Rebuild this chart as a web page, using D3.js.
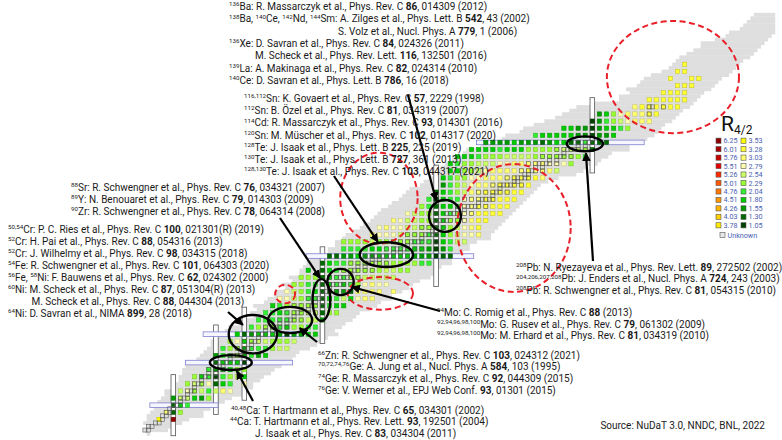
<!DOCTYPE html>
<html><head><meta charset="utf-8">
<script src="https://cdn.jsdelivr.net/npm/d3@7"></script>
<style>
html,body{margin:0;padding:0;background:#fff;}
svg{display:block;font-family:Roboto,"Noto Sans",sans-serif;}
</style></head><body>
<svg id="chart" width="782" height="440"></svg>
<script>
// ---------- nuclide chart: known nuclides per proton number Z = 0..118 ----------
const knownNmin = [1,0,1,0,1,1,2,3,3,4,5,6,6,8,8,10,10,11,11,12,14,15,16,17,18,19,19,20,20,23,
  24,29,28,31,30,32,31,34,35,37,37,40,39,42,41,44,44,45,46,47,49,52,52,54,54,56,57,59,61,62,
  64,65,66,67,69,70,72,73,74,75,78,79,81,82,83,84,85,87,87,90,91,95,96,101,102,106,107,110,113,116,
  118,120,122,126,134,134,137,136,139,140,141,143,146,148,149,150,151,153,155,157,157,161,164,165,168,169,170,171,172];
const knownNmax = [1,6,8,10,12,16,16,18,20,22,24,28,28,30,30,32,33,35,36,38,40,41,42,43,46,48,50,51,54,53,
  55,56,58,59,60,63,65,66,69,69,72,74,75,77,80,81,82,83,86,86,90,89,91,91,93,97,97,98,99,100,
  101,102,103,104,105,106,107,108,109,110,111,113,116,121,123,124,127,128,130,131,136,136,138,141,143,144,145,146,148,149,
  150,151,153,154,155,156,157,159,160,161,162,164,165,166,167,168,170,171,172,173,174,175,176,177,177,177,177,177,177];

// naturally occurring nuclides (outlined cells): proton number and neutron numbers
const stableZ = [1,2,3,4,5,6,7,8,9,10,11,12,13,14,15,16,17,18,19,20,21,22,23,24,25,26,27,28,29,30,
  31,32,33,34,35,36,37,38,39,40,41,42,44,45,46,47,48,49,50,51,52,53,54,55,56,57,58,59,60,62,
  63,64,65,66,67,68,69,70,71,72,73,74,75,76,77,78,79,80,81,82,83,90,92];
const stableN = [[0,1],[1,2],[3,4],[5],[5,6],[6,7],[7,8],[8,9,10],[10],[10,11,12],[12],[12,13,14],[14],[14,15,16],[16],
  [16,17,18,20],[18,20],[18,20,22],[20,21,22],[20,22,23,24,26,28],[24],[24,25,26,27,28],[27,28],[26,28,29,30],[30],
  [28,30,31,32],[32],[30,32,33,34,36],[34,36],[34,36,37,38,40],[38,40],[38,40,41,42,44],[42],[40,42,43,44,46,48],[44,46],
  [42,44,46,47,48,50],[48,50],[46,48,49,50],[50],[50,51,52,54,56],[52],[50,52,53,54,55,56,58],[52,54,55,56,57,58,60],[58],
  [56,58,59,60,62,64],[60,62],[58,60,62,63,64,65,66,68],[64,66],[62,64,65,66,67,68,69,70,72,74],[70,72],[68,70,71,72,73,74,76,78],
  [74],[70,72,74,75,76,77,78,80,82],[78],[74,76,78,79,80,81,82],[81,82],[78,80,82,84],[82],[82,83,84,85,86,88,90],
  [82,85,86,87,88,90,92],[88,90],[88,90,91,92,93,94,96],[94],[90,92,94,95,96,97,98],[98],[94,96,98,99,100,102],[100],
  [98,100,101,102,103,104,106],[104,105],[102,104,105,106,107,108],[107,108],[106,108,109,110,112],[110,112],
  [108,110,111,112,113,114,116],[114,116],[112,114,116,117,118,120],[118],[116,118,119,120,121,122,124],[122,124],
  [122,124,125,126],[126],[142],[142,143,146]];

// ---------- R4/2 = E(4+)/E(2+) of even-even nuclei ----------
// each row: proton number, first neutron number, values for consecutive even N
const r42Z  = [4,6,8,10,12,14,16,18,20,22,24,26,28,30,32,34,36,38,40,42,44,46,48,50,52,54,56,58,60,62,64,66,68,70,72,74,76,78,80,82,84,86,88,90,92,94,96,98,100,102,104];
const r42N0 = [4,6,8,8,10,12,14,18,20,20,22,24,26,30,32,34,36,38,40,42,44,46,50,52,56,56,64,66,70,74,78,80,82,84,84,86,86,88,92,96,110,118,126,128,138,142,146,150,148,150,152];
const r42Vals = [
  [3.60,null,6.30],
  [3.17,1.53,2.34],
  [1.50,1.80,2.14],
  [1.79,2.60,2.64,2.00,1.74,2.30],
  [2.65,3.01,2.38,2.73,2.28,2.62,3.20,3.00],
  [2.47,2.60,2.36,2.80,1.30,1.93,2.10,null,2.90],
  [2.30,2.00,2.20,1.27,2.20,2.50,2.76,2.00],
  [2.24,1.76,1.98,1.99,2.37,2.50],
  [1.35,1.81,1.97,1.91,1.17],
  [1.73,2.27,2.26,2.33,1.72,2.20,1.68,1.91],
  [2.23,2.48,2.41,1.65,2.20,2.26,2.26,2.50,2.60,2.60],
  [2.40,2.80,1.80,2.46,2.57,2.56,2.30,2.40,2.50,2.70],
  [1.88,1.45,1.69,1.88,2.00,1.94,1.69,1.20,1.77,1.77,1.90,1.93],
  [2.20,2.31,2.33,2.36,2.24,2.02,2.31,2.30,2.20,2.20],
  [2.28,2.27,2.23,2.07,2.07,2.46,2.51,2.54,2.64,1.60],
  [2.27,2.18,1.91,2.15,2.38,2.45,2.54,2.65,1.46,2.40,2.30],
  [1.86,2.20,2.44,2.46,2.33,2.35,2.38,1.44,2.10,1.92,2.00],
  [2.80,2.83,2.70,2.44,2.23,2.06,1.48,2.00,2.05,2.56,1.99,3.01,3.23,3.20],
  [2.80,2.60,2.42,2.23,2.02,1.40,1.60,1.60,1.63,1.50,3.26,3.15,3.24,3.20,null,3.10],
  [2.50,2.50,2.28,2.10,1.51,1.81,2.09,1.92,2.12,2.51,2.92,3.04,2.92,2.90],
  [2.40,2.30,2.30,1.53,1.82,2.14,2.27,2.33,2.48,2.66,2.75,2.76,2.72,2.60],
  [2.00,null,1.48,1.94,2.18,2.29,2.38,2.40,2.42,2.46,2.53,2.56,2.58,2.50,2.50],
  [1.49,1.80,2.10,2.25,2.36,2.38,2.35,2.29,2.30,2.38,2.39,2.37,2.37,2.35,2.26,2.20],
  [1.34,1.54,1.67,1.74,1.82,1.79,1.69,1.85,1.85,1.87,1.88,1.85,1.79,1.71,1.64,1.09,1.47,1.50],
  [2.20,2.26,2.20,2.09,2.00,1.98,2.07,2.09,2.07,2.04,2.01,1.95,1.72,1.24,1.69,2.10],
  [2.40,2.40,2.40,2.50,2.60,2.47,2.50,2.48,2.42,2.33,2.25,2.16,2.04,1.29,1.82,2.21,2.65,2.70],
  [3.10,2.90,2.80,2.80,2.75,2.52,2.43,2.32,2.28,1.32,1.89,2.32,2.66,2.84,3.00,3.20],
  [3.00,3.06,2.87,2.81,2.64,2.56,2.38,2.32,1.30,1.90,2.36,2.58,2.86,3.18,3.30],
  [3.10,2.90,2.70,2.60,2.40,2.30,1.33,1.89,2.30,2.49,2.93,3.27,3.30,3.30],
  [2.80,2.60,2.35,2.33,1.32,1.85,2.14,2.32,3.01,3.25,3.29,3.30,3.30,3.30],
  [2.30,2.20,1.32,1.82,2.02,2.19,3.02,3.24,3.29,3.30,3.30,3.30,3.30],
  [2.10,1.20,1.81,2.10,2.23,2.93,3.21,3.27,3.29,3.30,3.31,3.30,3.30],
  [1.40,1.83,2.07,2.32,2.74,3.10,3.23,3.28,3.29,3.31,3.31,3.31,3.30],
  [1.70,2.10,2.33,2.62,2.92,3.13,3.23,3.27,3.29,3.31,3.31,3.31,3.30],
  [1.80,2.10,2.30,2.50,2.79,2.97,3.11,3.19,3.25,3.27,3.28,3.29,3.31,3.29,3.26],
  [1.90,2.00,2.40,2.50,2.70,2.90,3.06,3.15,3.22,3.24,3.26,3.29,3.27,3.23,3.10,2.70],
  [2.00,2.20,2.30,2.50,2.60,2.66,2.74,2.93,3.02,3.09,3.15,3.20,3.17,3.08,2.93,2.82,2.90,2.50],
  [1.90,2.00,2.00,2.20,2.40,2.40,2.53,2.68,2.71,2.67,2.56,2.53,2.49,2.48,2.47,2.47,2.42,2.40,2.20],
  [1.80,2.00,2.00,2.00,2.10,2.00,1.80,2.00,2.40,2.50,2.50,2.50,2.50,2.56,2.57,2.55,2.50,1.40],
  [1.70,1.70,1.75,1.75,1.80,1.60,1.60,1.60,1.40,1.65,1.82,1.90,1.43,1.41,2.10,1.33,1.37,1.40],
  [2.20,1.90,1.90,1.90,1.80,2.00,1.70,1.63,1.21,1.55,1.68,1.80],
  [1.90,1.80,1.70,1.60,1.18,1.60,1.96,2.03,2.21,2.41],
  [1.20,1.70,2.19,2.30,2.71,2.97,3.13,3.21,3.25],
  [1.60,2.00,2.40,2.90,3.14,3.24,3.27,3.28,3.30],
  [3.27,3.29,3.30,3.30,3.30,3.30,3.30],
  [3.30,3.31,3.31,3.31,3.31,3.30],
  [3.31,3.31,3.31,3.31],
  [3.30,3.32,3.30],
  [3.30,null,null,3.30,3.30],
  [3.30,3.30],
  [3.30]
];

// colour legend of R4/2 (lower bound of each class)
const legendLeft  = [6.25,6.01,5.76,5.51,5.26,5.01,4.76,4.51,4.26,4.03,3.78];
const legendRight = [3.53,3.28,3.03,2.79,2.54,2.29,2.04,1.80,1.55,1.30,1.05];
const classColors = {
  "6.25":"#8c0000","6.01":"#a80000","5.76":"#c80000","5.51":"#e40000","5.26":"#ff2a00","5.01":"#ff5800",
  "4.76":"#ff7800","4.51":"#ff9800","4.26":"#ffb400","4.03":"#ffcf00","3.78":"#ffea00",
  "3.53":"#ffff00","3.28":"#ffff33","3.03":"#ffff70","2.79":"#ffffb0","2.54":"#ccff66","2.29":"#99ff33",
  "2.04":"#33ee33","1.80":"#00cc00","1.55":"#009900","1.30":"#006600","1.05":"#004000"};

// closed shells drawn as bars: magic number, extent along the other axis
const magicN     = [8,20,28,50,82,126];
const magicNZlo  = [0,6,10,26,42,74];
const magicNZhi  = [16,30,35,52,75,94];
const magicZ     = [8,20,28,50,82];
const magicZNlo  = [2,12,17,46,94];
const magicZNhi  = [20,41,44,92,140];

// highlighted regions (centre N, centre Z, half widths in N and Z)
const studied = [[24.2,20.0,5.9,2.1],[30.4,28.0,6.8,5.4],[40.9,32.0,6.2,3.7],[49.7,37.6,2.5,5.9],
  [55.1,42.7,3.7,3.7],[68.0,50.4,7.5,3.5],[84.5,61.3,4.5,4.5],[123.9,81.6,5.1,2.1]];
const deformed = [[39.5,39.3,2.8,2.6],[66.3,39.5,9.2,4.6],[65.9,66.3,10.9,12.8],[103.9,57.9,16,18],[148.7,100.4,18.6,15.8]];

// reference lists: ^{..} superscript, *..* bold
const refBa = ["^{136}Ba: R. Massarczyk et al., Phys. Rev. C *86*, 014309 (2012)",
  "^{138}Ba, ^{140}Ce, ^{142}Nd, ^{144}Sm: A. Zilges et al., Phys. Lett. B *542*, 43 (2002)",
  "S. Volz et al., Nucl. Phys. A *779*, 1 (2006)",
  "^{136}Xe: D. Savran et al., Phys. Rev. C *84*, 024326 (2011)",
  "M. Scheck et al., Phys. Rev. Lett. *116*, 132501 (2016)",
  "^{139}La: A. Makinaga et al., Phys. Rev. C *82*, 024314 (2010)",
  "^{140}Ce: D. Savran et al., Phys. Lett. B *786*, 16 (2018)"];
const refSn = ["^{116,112}Sn: K. Govaert et al., Phys. Rev. C *57*, 2229 (1998)",
  "^{112}Sn: B. Özel et al., Phys. Rev. C *81*, 034319 (2007)",
  "^{114}Cd: R. Massarczyk et al., Phys. Rev. C *93*, 014301 (2016)",
  "^{120}Sn: M. Müscher et al., Phys. Rev. C *102*, 014317 (2020)",
  "^{128}Te: J. Isaak et al., Phys. Lett. B *225*, 225 (2019)",
  "^{130}Te: J. Isaak et al., Phys. Lett. B *727*, 361 (2013)",
  "^{128,130}Te: J. Isaak et al., Phys. Rev. C *103*, 044317 (2021)"];
const refSr = ["^{88}Sr: R. Schwengner et al., Phys. Rev. C *76*, 034321 (2007)",
  "^{89}Y: N. Benouaret et al., Phys. Rev. C *79*, 014303 (2009)",
  "^{90}Zr: R. Schwengner et al., Phys. Rev. C *78*, 064314 (2008)"];
const refCr = ["^{50,54}Cr: P. C. Ries et al., Phys. Rev. C *100*, 021301(R) (2019)",
  "^{52}Cr: H. Pai et al., Phys. Rev. C *88*, 054316 (2013)",
  "^{52}Cr: J. Wilhelmy et al., Phys. Rev. C *98*, 034315 (2018)",
  "^{54}Fe: R. Schwengner et al., Phys. Rev. C *101*, 064303 (2020)",
  "^{56}Fe, ^{58}Ni: F. Bauwens et al., Phys. Rev. C *62*, 024302 (2000)",
  "^{60}Ni: M. Scheck et al., Phys. Rev. C *87*, 051304(R) (2013)",
  "M. Scheck et al., Phys. Rev. C *88*, 044304 (2013)",
  "^{64}Ni: D. Savran et al., NIMA *899*, 28 (2018)"];
const refPb = ["^{208}Pb: N. Ryezayeva et al., Phys. Rev. Lett. *89*, 272502 (2002)",
  "^{204,206,207,208}Pb: J. Enders et al., Nucl. Phys. A *724*, 243 (2003)",
  "^{208}Pb: R. Schwengner et al., Phys. Rev. C *81*, 054315 (2010)"];
const refMo = ["^{94}Mo: C. Romig et al., Phys. Rev. C *88* (2013)",
  "^{92,94,96,98,100}Mo: G. Rusev et al., Phys. Rev. C *79*, 061302 (2009)",
  "^{92,94,96,98,100}Mo: M. Erhard et al., Phys. Rev. C *81*, 034319 (2010)"];
const refZn = ["^{66}Zn: R. Schwengner et al., Phys. Rev. C *103*, 024312 (2021)",
  "^{70,72,74,76}Ge: A. Jung et al., Nucl. Phys. A *584*, 103 (1995)",
  "^{74}Ge: R. Massarczyk et al., Phys. Rev. C *92*, 044309 (2015)",
  "^{76}Ge: V. Werner et al., EPJ Web Conf. *93*, 01301 (2015)"];
const refCa = ["^{40,48}Ca: T. Hartmann et al., Phys. Rev. C *65*, 034301 (2002)",
  "^{44}Ca: T. Hartmann et al., Phys. Rev. Lett. *93*, 192501 (2004)",
  "J. Isaak et al., Phys. Rev. C *83*, 034304 (2011)"];

// ---------- drawing ----------
const svg = d3.select("#chart");
const CELL = 3.551;
const x = d3.scaleLinear().domain([0, 177]).range([144.9, 144.9 + CELL * 177]);
const y = d3.scaleLinear().domain([0, 118]).range([433.6, 433.6 - CELL * 118]);

const chart = svg.append("g");

// known nuclides band
chart.append("g").selectAll("rect").data(knownNmin.map((n, z) => ({z, lo: n, hi: knownNmax[z]})))
  .join("rect")
  .attr("x", d => x(d.lo - 0.5)).attr("width", d => x(d.hi + 0.5) - x(d.lo - 0.5))
  .attr("y", d => y(d.z + 0.5)).attr("height", d => y(d.z - 0.5) - y(d.z + 0.5) + 0.3)
  .attr("fill", "#dedede");

// closed-shell bars
chart.append("g").selectAll("rect").data(magicN.map((n, i) => ({n, lo: magicNZlo[i], hi: magicNZhi[i]})))
  .join("rect")
  .attr("x", d => x(d.n) - 2.3).attr("width", 4.6)
  .attr("y", d => y(d.hi + 0.6)).attr("height", d => y(d.lo - 0.6) - y(d.hi + 0.6))
  .attr("fill", "#ffffff").attr("stroke", "#555").attr("stroke-width", 0.8);
chart.append("g").selectAll("rect").data(magicZ.map((z, i) => ({z, lo: magicZNlo[i], hi: magicZNhi[i]})))
  .join("rect")
  .attr("y", d => y(d.z) - 2.3).attr("height", 4.6)
  .attr("x", d => x(d.lo - 0.6)).attr("width", d => x(d.hi + 0.6) - x(d.lo - 0.6))
  .attr("fill", "#f6f6ff").attr("stroke", "#8080d0").attr("stroke-width", 0.8);

// R4/2 squares
const classOf = v => legendLeft.concat(legendRight).find(t => v >= t) ?? 1.05;
const colorOf = v => classColors[classOf(v).toFixed(2)];
const r42Points = [];
r42Z.forEach((z, i) => r42Vals[i].forEach((v, k) => { if (v != null) r42Points.push({z, n: r42N0[i] + 2 * k, v}); }));
const SQ = 4.3;
chart.append("g").selectAll("rect").data(r42Points).join("rect")
  .attr("x", d => x(d.n) - SQ / 2).attr("y", d => y(d.z) - SQ / 2)
  .attr("width", SQ).attr("height", SQ)
  .attr("fill", d => colorOf(d.v))
  .attr("stroke", d => d3.color(colorOf(d.v)).darker(0.8)).attr("stroke-width", 0.5);

// naturally occurring nuclides
const stablePts = [];
stableZ.forEach((z, i) => stableN[i].forEach(n => stablePts.push({z, n})));
chart.append("g").selectAll("rect").data(stablePts).join("rect")
  .attr("x", d => x(d.n) - 2).attr("y", d => y(d.z) - 2).attr("width", 4).attr("height", 4)
  .attr("fill", "none").attr("stroke", "#5a5a5a").attr("stroke-width", 0.6);

// deformed regions (red dashed) and studied regions (black)
chart.append("g").selectAll("ellipse").data(deformed).join("ellipse")
  .attr("cx", d => x(d[0])).attr("cy", d => y(d[1]))
  .attr("rx", d => x(d[2]) - x(0)).attr("ry", d => y(0) - y(d[3]))
  .attr("fill", "none").attr("stroke", "#e8202a").attr("stroke-width", 2).attr("stroke-dasharray", "6,3.5");
chart.append("g").selectAll("ellipse").data(studied).join("ellipse")
  .attr("cx", d => x(d[0])).attr("cy", d => y(d[1]))
  .attr("rx", d => x(d[2]) - x(0)).attr("ry", d => y(0) - y(d[3]))
  .attr("fill", "none").attr("stroke", "#000").attr("stroke-width", 2.4);

// arrows from the reference lists to the studied regions: tail (px), tip (N, Z)
const arrows = [[[408,95],[82.0,65.7]],[[334,176],[65.6,54.0]],[[280,218],[49.3,43.8]],[[228,312],[27.6,30.6]],
  [[440,311],[58.3,41.3]],[[317,342],[43.6,29.7]],[[253,401],[25.9,17.6]],[[593,261],[124.2,79.0]]];
svg.append("defs").append("marker").attr("id", "head").attr("viewBox", "0 0 10 10")
  .attr("refX", 9).attr("refY", 5).attr("markerWidth", 4).attr("markerHeight", 4)
  .attr("orient", "auto").attr("markerUnits", "strokeWidth")
  .append("path").attr("d", "M0,0L10,5L0,10z").attr("fill", "#000");
svg.append("g").selectAll("line").data(arrows).join("line")
  .attr("x1", d => d[0][0]).attr("y1", d => d[0][1])
  .attr("x2", d => x(d[1][0])).attr("y2", d => y(d[1][1]))
  .attr("stroke", "#000").attr("stroke-width", 2.2).attr("marker-end", "url(#head)");

// rich text lines
function richLine(g, str, tx, ty, size) {
  const t = g.append("text").attr("x", tx).attr("y", ty).attr("font-size", size).attr("fill", "#1a1a1a");
  const re = /\^\{([^}]*)\}|\*([^*]*)\*|([^*^]+)/g;
  let m, raised = false;
  while ((m = re.exec(str))) {
    if (m[1] !== undefined) {
      t.append("tspan").attr("dy", -size * 0.38).attr("font-size", size * 0.62).text(m[1]);
      raised = true;
    } else {
      const sp = t.append("tspan").attr("dy", raised ? size * 0.38 : 0).text(m[2] !== undefined ? m[2] : m[3]);
      if (m[2] !== undefined) sp.attr("font-weight", "bold");
      raised = false;
    }
  }
}
function block(lines, tx, ty, step, indents) {
  const g = svg.append("g");
  lines.forEach((s, i) => richLine(g, s, (indents && indents[i] != null) ? indents[i] : tx, ty + i * step, 10));
}
block(refBa, 229, 10, 12.3, [null, null, 338, null, 255, null, null]);
block(refSn, 244, 102, 12.2);
block(refSr, 71, 190.5, 12.3);
block(refCr, 8, 232.5, 12.0, [null, null, null, null, null, null, 31.5, null]);
block(refPb, 516, 270.5, 11.8);
block(refMo, 437, 316, 11.6);
block(refZn, 318, 358.5, 11.7);
block(refCa, 231, 413.5, 11.7, [null, 230, 255]);
svg.append("text").attr("x", 765).attr("y", 429).attr("text-anchor", "end")
  .attr("font-size", 10).attr("fill", "#1a1a1a").text("Source: NuDaT 3.0, NNDC, BNL, 2022");

// legend
const lg = svg.append("g");
const ttl = lg.append("text").attr("x", 721).attr("y", 131).attr("font-size", 21).attr("fill", "#111");
ttl.append("tspan").text("R");
ttl.append("tspan").attr("dy", 3).attr("font-size", 12).text("4/2");
const legendRow = (vals, bx) => vals.forEach((v, i) => {
  const cy = 140.7 + i * 8.46;
  lg.append("rect").attr("x", bx).attr("y", cy - 2.6).attr("width", 5).attr("height", 5.2)
    .attr("fill", classColors[v.toFixed(2)]).attr("stroke", "#555").attr("stroke-width", 0.6);
  lg.append("text").attr("x", bx + 7.5).attr("y", cy + 2.5).attr("font-size", 7.2).attr("fill", "#4a62b0").text(v.toFixed(2));
});
legendRow(legendLeft, 716);
legendRow(legendRight, 741);
lg.append("rect").attr("x", 720).attr("y", 232.5).attr("width", 5).attr("height", 5)
  .attr("fill", "#e8e8e8").attr("stroke", "#555").attr("stroke-width", 0.6);
lg.append("text").attr("x", 727.5).attr("y", 238).attr("font-size", 7.2).attr("fill", "#4a62b0").text("Unknown");
</script>
</body></html>
